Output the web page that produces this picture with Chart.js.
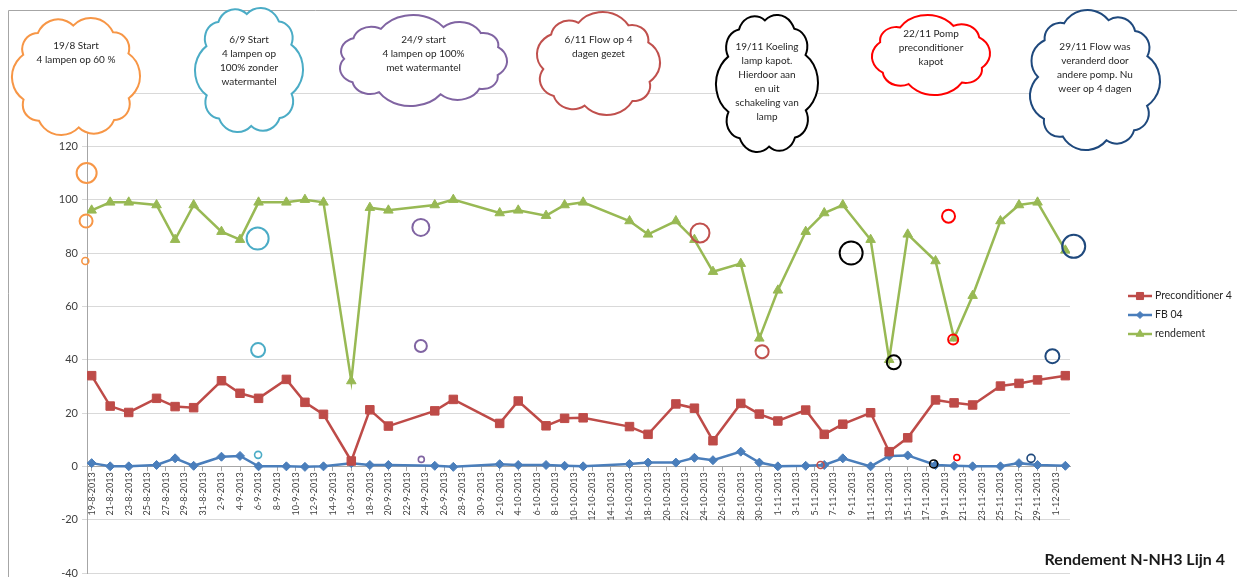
<!DOCTYPE html>
<html>
<head>
<meta charset="utf-8">
<script src="https://cdn.jsdelivr.net/npm/chart.js@4.4.1/dist/chart.umd.min.js"></script>
<style>
  html, body { margin: 0; padding: 0; background: #fff; }
  canvas { display: block; }
</style>
</head>
<body>
<canvas id="rendementChart" width="1237" height="577"></canvas>
<script>
// tick labels on the date axis (every 2 days)
const tickLabels = [
    '19-8-2013', '21-8-2013', '23-8-2013', '25-8-2013', '27-8-2013', '29-8-2013', '31-8-2013',
    '2-9-2013', '4-9-2013', '6-9-2013', '8-9-2013', '10-9-2013', '12-9-2013', '14-9-2013', '16-9-2013',
    '18-9-2013', '20-9-2013', '22-9-2013', '24-9-2013', '26-9-2013', '28-9-2013', '30-9-2013',
    '2-10-2013', '4-10-2013', '6-10-2013', '8-10-2013', '10-10-2013', '12-10-2013', '14-10-2013', '16-10-2013',
    '18-10-2013', '20-10-2013', '22-10-2013', '24-10-2013', '26-10-2013', '28-10-2013', '30-10-2013',
    '1-11-2013', '3-11-2013', '5-11-2013', '7-11-2013', '9-11-2013', '11-11-2013', '13-11-2013', '15-11-2013',
    '17-11-2013', '19-11-2013', '21-11-2013', '23-11-2013', '25-11-2013', '27-11-2013', '29-11-2013',
    '1-12-2013'
];

// measurement days
const sampleDates = [
    '19-8-2013', '21-8-2013', '23-8-2013', '26-8-2013', '28-8-2013', '30-8-2013',
    '2-9-2013', '4-9-2013', '6-9-2013', '9-9-2013', '11-9-2013', '13-9-2013', '16-9-2013', '18-9-2013',
    '20-9-2013', '25-9-2013', '27-9-2013',
    '2-10-2013', '4-10-2013', '7-10-2013', '9-10-2013', '11-10-2013', '16-10-2013', '18-10-2013',
    '21-10-2013', '23-10-2013', '25-10-2013', '28-10-2013', '30-10-2013',
    '1-11-2013', '4-11-2013', '6-11-2013', '8-11-2013', '11-11-2013', '13-11-2013', '15-11-2013',
    '18-11-2013', '20-11-2013', '22-11-2013', '25-11-2013', '27-11-2013', '29-11-2013',
    '2-12-2013'
];

const preconditioner4 = [
    34.0, 22.6, 20.2, 25.5, 22.4, 22.0,
    32.1, 27.4, 25.5, 32.6, 24.0, 19.5, 2.0, 21.2, 15.1, 20.8, 25.1,
    16.1, 24.5, 15.2, 18.0, 18.2, 14.9, 12.0, 23.4, 21.8, 9.6, 23.6, 19.6,
    17.0, 21.1, 12.0, 15.8, 20.1, 5.5, 10.7, 24.9, 23.8, 23.0, 30.1, 31.1, 32.4,
    34.0
];

const fb04 = [
    1.2, 0, 0, 0.5, 3.0, 0.2,
    3.6, 3.9, 0, 0, -0.2, 0, 1.2, 0.5, 0.5, 0.2, -0.2,
    0.8, 0.5, 0.5, 0.2, 0, 0.9, 1.4, 1.4, 3.2, 2.3, 5.5, 1.4,
    0, 0.2, 0.5, 3.0, 0, 3.9, 4.1, 0.5, 0.2, 0, 0, 1.2, 0.5,
    0.2
];

const rendement = [
    96, 99, 99, 98, 85, 98,
    88, 85, 99, 99, 100, 99, 32, 97, 96, 98, 100,
    95, 96, 94, 98, 99, 92, 87, 92, 85, 73, 76, 48,
    66, 88, 95, 98, 85, 40, 87, 77, 48, 64, 92, 98, 99,
    81
];

// notes: cloud text and the hand drawn circles (day after 19-8-2013, value)
const noteTexts = [
    ['19/8 Start', '4 lampen op 60 %'],
    ['6/9 Start', '4 lampen op', '100% zonder', 'watermantel'],
    ['24/9 start', '4 lampen op 100%', 'met watermantel'],
    ['6/11 Flow op 4', 'dagen gezet'],
    ['19/11 Koeling', 'lamp kapot.', 'Hierdoor aan', 'en uit', 'schakeling van', 'lamp'],
    ['22/11 Pomp', 'preconditioner', 'kapot'],
    ['29/11 Flow was', 'veranderd door', 'andere pomp. Nu', 'weer op 4 dagen']
];
const noteCircleDays = [
    [-0.54, -0.6, -0.68],
    [17.9, 17.95, 17.95],
    [35.5, 35.5, 35.55],
    [65.6, 72.3, 78.6],
    [81.9, 86.5, 90.8],
    [92.4, 92.9, 93.3],
    [105.9, 103.6, 101.3]
];
const noteCircleValues = [
    [110, 92, 77],
    [85.4, 43.6, 4.3],
    [89.6, 45.1, 2.6],
    [87.5, 43.0, 0.5],
    [80, 39, 0.9],
    [93.8, 47.6, 3.3],
    [82.5, 41.3, 3.0]
];

const chartTitle = 'Rendement N-NH3 Lijn 4';

// ---- styling ----
const noteColors = ['#f79646', '#4bacc6', '#8064a2', '#c0504d', '#000000', '#ff0000', '#1f497d'];
const noteRadii = [[10, 6.5, 3.5], [11, 7, 3.5], [8.5, 6, 3], [9.5, 6.5, 3.5], [11.5, 7, 4], [6.5, 5, 3], [11.5, 7, 4]];
// x, y, w, h, first text line y
const cloudBoxes = [
    [12, 18, 128, 117, 46],
    [195, 8, 108, 124, 40],
    [340, 15, 167, 91, 40],
    [537, 12, 123, 103, 40],
    [716, 15, 102, 137, 47],
    [872, 15, 118, 80, 34],
    [1030, 10, 130, 140, 47]
];
const FONT = 'Lato, "Open Sans", sans-serif';

function dayIndex(s) {
    const [d, m, y] = s.split('-').map(Number);
    return (Date.UTC(y, m - 1, d) - Date.UTC(2013, 7, 19)) / 86400000;
}

const tickDays = tickLabels.map(dayIndex);
const sampleDays = sampleDates.map(dayIndex);
const toPoints = values => values.map((v, i) => ({ x: sampleDays[i], y: v }));

const seriesDefs = [
    { label: 'Preconditioner 4', data: preconditioner4, color: '#be4b48', pointStyle: 'rect', radius: 6 },
    { label: 'FB 04', data: fb04, color: '#4a7ebb', pointStyle: 'rectRot', radius: 4.5 },
    { label: 'rendement', data: rendement, color: '#98b954', pointStyle: 'triangle', radius: 5.5 }
];

const datasets = seriesDefs.map(s => ({
    label: s.label,
    data: toPoints(s.data),
    borderColor: s.color,
    backgroundColor: s.color,
    pointBackgroundColor: s.color,
    pointBorderColor: s.color,
    pointStyle: s.pointStyle,
    pointRadius: s.radius,
    pointBorderWidth: 1,
    borderWidth: 2.5,
    tension: 0,
    showLine: true
}));

noteCircleDays.forEach((days, n) => {
    datasets.push({
        label: 'note' + n,
        type: 'scatter',
        data: days.map((d, i) => ({ x: d, y: noteCircleValues[n][i] })),
        borderColor: noteColors[n],
        backgroundColor: 'rgba(0,0,0,0)',
        pointStyle: 'circle',
        pointRadius: noteRadii[n],
        pointBorderWidth: [2, 2, 1.6],
        order: -1,
        clip: false
    });
});

// cloud outline: outward arcs around a rounded box, fitted into x, y, w, h
function cloudPath(ctx, x, y, w, h) {
    const n = Math.round((w + h) / 24);
    const e = 0.7;
    const k = h / w;
    const pts = [];
    for (let i = 0; i < n; i++) {
        const t = (i / n) * Math.PI * 2 + 0.3;
        const c = Math.cos(t), s = Math.sin(t);
        pts.push([Math.sign(c) * Math.pow(Math.abs(c), e), k * Math.sign(s) * Math.pow(Math.abs(s), e)]);
    }
    const arcs = [];
    let minX = Infinity, maxX = -Infinity, minY = Infinity, maxY = -Infinity;
    for (let i = 0; i < n; i++) {
        const p = pts[i], q = pts[(i + 1) % n];
        const half = Math.hypot(q[0] - p[0], q[1] - p[1]) / 2;
        const ux = (q[0] - p[0]) / (2 * half), uy = (q[1] - p[1]) / (2 * half);
        const R = half * 1.22;
        const d = Math.sqrt(R * R - half * half);
        // centre moved inward so the arc bulges out less than a half circle
        const cx = (p[0] + q[0]) / 2 - uy * d, cy = (p[1] + q[1]) / 2 + ux * d;
        const a1 = Math.atan2(p[1] - cy, p[0] - cx);
        const sweep = 2 * Math.asin(half / R);
        arcs.push([cx, cy, R, a1, a1 + sweep]);
        for (let j = 0; j <= 24; j++) {
            const ang = a1 + sweep * j / 24;
            const px = cx + R * Math.cos(ang), py = cy + R * Math.sin(ang);
            minX = Math.min(minX, px); maxX = Math.max(maxX, px);
            minY = Math.min(minY, py); maxY = Math.max(maxY, py);
        }
    }
    const sx = w / (maxX - minX), sy = h / (maxY - minY);
    ctx.save();
    ctx.translate(x - minX * sx, y - minY * sy);
    ctx.scale(sx, sy);
    ctx.beginPath();
    arcs.forEach(([cx, cy, R, a1, a2]) => ctx.arc(cx, cy, R, a1, a2, false));
    ctx.closePath();
    ctx.restore();
}

const decorPlugin = {
    id: 'decor',
    beforeDraw(chart) {
        const ctx = chart.ctx;
        ctx.save();
        ctx.fillStyle = '#fff';
        ctx.fillRect(0, 0, chart.width, chart.height);
        ctx.strokeStyle = '#a6a6a6';
        ctx.lineWidth = 1;
        ctx.beginPath();
        ctx.moveTo(8.5, chart.height);
        ctx.lineTo(8.5, 10.5);
        ctx.lineTo(chart.width, 10.5);
        ctx.stroke();
        ctx.restore();
    },
    afterDraw(chart) {
        const ctx = chart.ctx;
        ctx.save();

        // clouds
        cloudBoxes.forEach((box, n) => {
            const [x, y, w, h, ty] = box;
            cloudPath(ctx, x, y, w, h);
            ctx.fillStyle = '#fff';
            ctx.fill();
            ctx.strokeStyle = noteColors[n];
            ctx.lineWidth = 2;
            ctx.stroke();
            ctx.fillStyle = '#262626';
            ctx.font = '10px ' + FONT;
            ctx.textAlign = 'center';
            ctx.textBaseline = 'middle';
            noteTexts[n].forEach((line, i) => {
                ctx.fillText(line, x + w / 2, ty + i * 14);
            });
        });

        // legend
        const lx = 1128, rows = [296, 315, 334];
        seriesDefs.forEach((s, i) => {
            const y = rows[i];
            ctx.strokeStyle = s.color;
            ctx.fillStyle = s.color;
            ctx.lineWidth = 2.5;
            ctx.beginPath();
            ctx.moveTo(lx, y);
            ctx.lineTo(lx + 24, y);
            ctx.stroke();
            ctx.lineWidth = 1;
            Chart.helpers.drawPoint(ctx, { pointStyle: s.pointStyle, radius: s.radius - 1, rotation: 0, borderWidth: 1 }, lx + 12, y);
            ctx.fillStyle = '#262626';
            ctx.font = '10.5px ' + FONT;
            ctx.textAlign = 'left';
            ctx.textBaseline = 'middle';
            ctx.fillText(s.label, lx + 27, y);
        });

        // title
        ctx.fillStyle = '#1a1a1a';
        ctx.font = 'bold 16px ' + FONT;
        ctx.textAlign = 'right';
        ctx.textBaseline = 'middle';
        ctx.fillText(chartTitle, 1225, 560);

        ctx.restore();
    }
};

const zeroPadding = scale => {
    scale.paddingTop = 0;
    scale.paddingBottom = 0;
};

new Chart(document.getElementById('rendementChart'), {
    type: 'line',
    data: { datasets: datasets },
    options: {
        responsive: false,
        animation: false,
        layout: { autoPadding: false, padding: { top: 93, right: 167, bottom: 4, left: 0 } },
        plugins: {
            legend: { display: false },
            tooltip: { enabled: false }
        },
        scales: {
            x: {
                type: 'linear',
                position: { y: 0 },
                min: -0.5,
                max: 105.5,
                afterFit: zeroPadding,
                afterBuildTicks: scale => {
                    scale.ticks = tickDays.map(v => ({ value: v }));
                },
                ticks: {
                    autoSkip: false,
                    minRotation: 90,
                    maxRotation: 90,
                    padding: 2,
                    color: '#404040',
                    font: { family: FONT, size: 9 },
                    callback: value => tickLabels[tickDays.indexOf(value)]
                },
                grid: { drawOnChartArea: false, drawTicks: true, tickLength: 4, color: '#a6a6a6' },
                border: { color: '#a6a6a6', width: 1 }
            },
            y: {
                min: -40,
                max: 140,
                afterFit: scale => {
                    scale.width = 87;
                    zeroPadding(scale);
                },
                ticks: {
                    stepSize: 20,
                    padding: 4,
                    color: '#404040',
                    font: { family: FONT, size: 11 }
                },
                grid: { color: '#d9d9d9', tickLength: 5 },
                border: { color: '#a6a6a6', width: 1 }
            }
        }
    },
    plugins: [decorPlugin]
});
</script>
</body>
</html>
